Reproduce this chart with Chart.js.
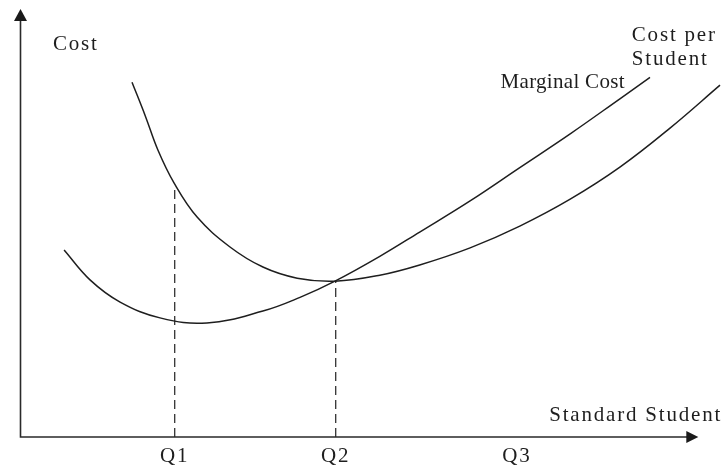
<!DOCTYPE html>
<html lang="en">
<head>
<meta charset="UTF-8">
<title>Cost per Student and Marginal Cost</title>
<style>
  body { margin: 0; background: #fff; }
  .chart-box { width: 728px; height: 469px; }
</style>
<script src="https://cdn.jsdelivr.net/npm/chart.js@4.4.1/dist/chart.umd.min.js"></script>
</head>
<body>
<div class="chart-box"><canvas id="costChart"></canvas></div>
<script>
// arbitrary units (x = standard students, y = cost)
const avgCostX = [16, 17.9, 19.7, 22, 25.3, 30, 34.7, 39.6, 45, 51.4, 57.1, 64.3, 71.4, 78.6, 85.7, 92.9, 100];
const avgCostY = [83.1, 75.2, 67.2, 59.5, 51.5, 44.5, 39.8, 37.2, 36.5, 37.9, 40.3, 44.3, 49.4, 55.7, 63.2, 72.4, 82.4];
const margCostX = [6.3, 10, 14.3, 20, 26.7, 34.7, 40, 45, 51.4, 57.1, 64.3, 71.4, 78.6, 85.7, 90];
const margCostY = [43.8, 36.8, 31.6, 27.9, 26.7, 29.5, 32.7, 36.5, 42.3, 48, 55.3, 63.1, 71, 79.2, 84.2];
const qLabels = ['Q1', 'Q2', 'Q3'];
const qValues = [22.1, 45.1, 71];
const qDropTo = [58.5, 36.5, null]; // top of the dashed guide lines
const xAxisEnd = 96.9;
const yAxisEnd = 100;

const inkColor = '#1e1e1e';
const fontFamily = '"Liberation Serif", "DejaVu Serif", serif';
const textSpacing = '1.8px';

function toPoints(xs, ys) {
  return xs.map((v, i) => ({ x: v, y: ys[i] }));
}

const guideSets = [];
qValues.forEach((q, i) => {
  if (qDropTo[i] == null) return;
  guideSets.push({
    data: [{ x: q, y: 0 }, { x: q, y: qDropTo[i] }],
    borderColor: '#333',
    borderWidth: 1.3,
    borderDash: [9, 5],
    pointRadius: 0,
    tension: 0
  });
});

const sketchAxes = {
  id: 'sketchAxes',
  beforeDraw(chart) {
    chart.ctx.letterSpacing = textSpacing;
  },
  afterDraw(chart) {
    const { ctx, scales: { x, y } } = chart;
    const px = v => x.getPixelForValue(v);
    const py = v => y.getPixelForValue(v);
    const x0 = px(0) + 0.5;
    const y0 = py(0);
    const xEnd = px(xAxisEnd);
    const yEnd = py(yAxisEnd) - 1;

    ctx.save();
    ctx.strokeStyle = '#2a2a2a';
    ctx.fillStyle = '#1a1a1a';
    ctx.lineWidth = 1.6;
    ctx.beginPath();
    ctx.moveTo(x0, yEnd + 10);
    ctx.lineTo(x0, y0);
    ctx.lineTo(xEnd - 10, y0);
    ctx.stroke();

    // arrow heads
    ctx.beginPath();
    ctx.moveTo(x0, yEnd);
    ctx.lineTo(x0 - 6.5, yEnd + 12);
    ctx.lineTo(x0 + 6.5, yEnd + 12);
    ctx.closePath();
    ctx.fill();
    ctx.beginPath();
    ctx.moveTo(xEnd, y0);
    ctx.lineTo(xEnd - 12, y0 - 6);
    ctx.lineTo(xEnd - 12, y0 + 6);
    ctx.closePath();
    ctx.fill();

    // labels
    ctx.font = '21px ' + fontFamily;
    ctx.letterSpacing = textSpacing;
    ctx.fillStyle = inkColor;
    ctx.textBaseline = 'middle';
    ctx.textAlign = 'left';
    ctx.fillText('Cost', px(4.7), py(92));
    ctx.fillText('Cost per', px(87.4), py(94.1));
    ctx.fillText('Student', px(87.4), py(88.3));
    ctx.textAlign = 'right';
    ctx.fillText('Standard Student', px(100.3), py(5.1));
    ctx.letterSpacing = '0.3px';
    ctx.fillText('Marginal Cost', px(86.4), py(83.1));
    ctx.restore();
  }
};

new Chart(document.getElementById('costChart'), {
  type: 'line',
  data: {
    datasets: [
      {
        label: 'Cost per Student',
        data: toPoints(avgCostX, avgCostY),
        borderColor: inkColor,
        borderWidth: 1.5,
        pointRadius: 0,
        tension: 0.4,
        clip: 8
      },
      {
        label: 'Marginal Cost',
        data: toPoints(margCostX, margCostY),
        borderColor: inkColor,
        borderWidth: 1.5,
        pointRadius: 0,
        tension: 0.4,
        clip: 8
      },
      ...guideSets
    ]
  },
  options: {
    responsive: true,
    maintainAspectRatio: false,
    animation: false,
    layout: { padding: { left: 20, right: 8, top: 10, bottom: 0 } },
    plugins: { legend: { display: false }, tooltip: { enabled: false } },
    scales: {
      x: {
        type: 'linear',
        min: 0,
        max: 100,
        grid: { display: false, drawTicks: false },
        border: { display: false },
        ticks: {
          autoSkip: false,
          maxRotation: 0,
          padding: 7,
          color: inkColor,
          font: { family: fontFamily, size: 21 },
          callback: (v, i) => qLabels[i]
        },
        afterBuildTicks: s => { s.ticks = qValues.map(v => ({ value: v })); },
        afterFit: s => { s.height = 32; }
      },
      y: {
        type: 'linear',
        min: 0,
        max: 100,
        display: false
      }
    }
  },
  plugins: [sketchAxes]
});
</script>
</body>
</html>
